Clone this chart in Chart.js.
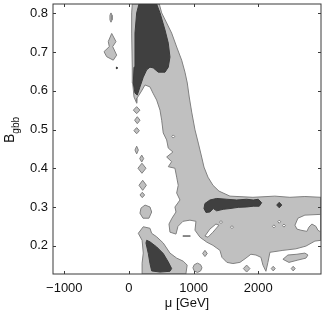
<!DOCTYPE html>
<html><head><meta charset="utf-8">
<script src="https://cdn.jsdelivr.net/npm/chart.js@4.4.0/dist/chart.umd.min.js"></script>
<style>html,body{margin:0;padding:0;background:#fff}#w{width:327px;height:313px;position:relative}</style>
</head><body><div id="w"><canvas id="c"></canvas></div>
<script>
// axis ticks and ranges
const xTicks = [-1000, 0, 1000, 2000];
const yTicks = [0.2, 0.3, 0.4, 0.5, 0.6, 0.7, 0.8];
const xRange = [-1175, 2970];
const yRange = [0.127, 0.824];

// light grey (outer contour) regions, [mu, B] pairs
const mainBand = [[51,0.824],[469,0.824],[506,0.801],[583,0.775],[660,0.749],[738,0.713],[815,0.679],[866,0.648],[902,0.620],[932,0.584],[970,0.545],[1021,0.499],[1072,0.465],[1124,0.429],[1160,0.403],[1222,0.377],[1299,0.356],[1392,0.341],[1562,0.328],[1917,0.325],[2257,0.328],[2489,0.325],[2721,0.327],[2970,0.325],[2970,0.281],[2970,0.214],[2876,0.212],[2737,0.199],[2582,0.192],[2381,0.188],[2180,0.183],[2149,0.157],[2118,0.134],[2072,0.150],[2041,0.170],[1964,0.176],[1886,0.178],[1809,0.168],[1716,0.157],[1608,0.154],[1515,0.157],[1438,0.170],[1407,0.188],[1299,0.201],[1206,0.209],[1098,0.222],[1021,0.240],[1036,0.263],[943,0.266],[835,0.263],[758,0.250],[727,0.230],[634,0.235],[619,0.256],[665,0.271],[727,0.287],[711,0.300],[789,0.318],[738,0.336],[762,0.356],[738,0.377],[711,0.400],[608,0.404],[660,0.417],[583,0.429],[680,0.442],[608,0.452],[583,0.473],[530,0.491],[506,0.524],[480,0.550],[428,0.576],[371,0.594],[325,0.610],[248,0.615],[186,0.597],[124,0.581],[119,0.568],[78,0.584],[57,0.620],[51,0.661],[42,0.749],[42,0.801]];
const lowerLeft = [[221,0.249],[325,0.245],[351,0.232],[428,0.223],[530,0.207],[634,0.181],[738,0.168],[840,0.160],[900,0.150],[880,0.127],[203,0.127],[203,0.155],[221,0.181],[203,0.214],[144,0.232]];
const islandsLight = [
  [[-278,0.801],[-262,0.795],[-262,0.783],[-278,0.777],[-294,0.783],[-294,0.795]],
  [[-267,0.748],[-201,0.727],[-252,0.714],[-190,0.692],[-243,0.679],[-345,0.688],[-386,0.701],[-304,0.714],[-320,0.727]],
  [[119,0.559],[170,0.550],[119,0.541],[68,0.550]],
  [[129,0.533],[171,0.524],[129,0.515],[87,0.524]],
  [[119,0.505],[161,0.497],[119,0.489],[77,0.497]],
  [[119,0.457],[145,0.447],[119,0.437],[93,0.447]],
  [[197,0.434],[228,0.425],[197,0.416],[166,0.425]],
  [[201,0.413],[263,0.400],[201,0.387],[139,0.400]],
  [[212,0.369],[269,0.356],[212,0.343],[155,0.356]],
  [[206,0.338],[242,0.331],[206,0.324],[170,0.331]],
  [[248,0.305],[325,0.300],[351,0.287],[309,0.271],[217,0.271],[170,0.284],[186,0.297]],
  [[1059,0.155],[1108,0.151],[1129,0.143],[1108,0.135],[1059,0.131],[1010,0.135],[989,0.143],[1010,0.151]],
  [[1175,0.188],[1211,0.180],[1175,0.172],[1139,0.180]],
  [[1820,0.150],[1871,0.141],[1820,0.132],[1769,0.141]],
  [[2381,0.165],[2458,0.176],[2598,0.178],[2721,0.181],[2768,0.176],[2737,0.168],[2613,0.163],[2474,0.157]],
  [[2231,0.147],[2262,0.141],[2231,0.135],[2200,0.141]],
  [[2540,0.147],[2571,0.141],[2540,0.135],[2509,0.141]],
  [[835,0.226],[943,0.226],[943,0.224],[835,0.224]]
];

// white holes inside the light region
const holes = [
  [[685,0.486],[708,0.482],[685,0.478],[662,0.482]],
  [[1175,0.225],[1252,0.243],[1345,0.256],[1392,0.253],[1299,0.235],[1222,0.222]],
  [[2567,0.253],[2613,0.271],[2721,0.279],[2970,0.281],[2970,0.235],[2922,0.240],[2891,0.250],[2829,0.256],[2783,0.248],[2752,0.237],[2659,0.240],[2598,0.243]],
  [[1423,0.265],[1446,0.261],[1423,0.257],[1400,0.261]],
  [[1593,0.252],[1616,0.248],[1593,0.244],[1570,0.248]],
  [[2242,0.254],[2265,0.250],[2242,0.246],[2219,0.250]],
  [[2324,0.266],[2347,0.262],[2324,0.258],[2301,0.262]],
  [[2397,0.256],[2420,0.252],[2397,0.248],[2374,0.252]]
];

// dark grey (inner contour) regions
const darkTop = [[155,0.824],[428,0.824],[480,0.801],[557,0.757],[608,0.723],[634,0.687],[608,0.661],[557,0.648],[453,0.648],[376,0.659],[325,0.661],[274,0.654],[221,0.635],[170,0.610],[129,0.589],[93,0.594],[67,0.620],[78,0.661],[93,0.749],[119,0.801]];
const darkBottom = [[274,0.214],[325,0.210],[428,0.197],[530,0.180],[608,0.158],[660,0.141],[634,0.134],[480,0.132],[351,0.135],[325,0.154],[299,0.180],[263,0.207]];
const darkBand = [[1175,0.309],[1252,0.318],[1356,0.322],[1511,0.320],[1665,0.318],[1820,0.320],[1922,0.318],[1999,0.320],[2052,0.311],[2015,0.302],[1922,0.302],[1820,0.300],[1690,0.299],[1562,0.296],[1458,0.294],[1356,0.290],[1304,0.296],[1252,0.287],[1191,0.286],[1160,0.296]];
const darkDot = [[2324,0.312],[2363,0.305],[2324,0.298],[2285,0.305]];
const darkSpeck = [[-195,0.661],[-185,0.661],[-185,0.657],[-195,0.657]];

const LIGHT = '#c0c0c0', LINE = '#808080', DARK = '#404040', WHITE = '#ffffff';
const FONT = '"Liberation Sans", Arial, Helvetica, sans-serif';

function poly(pts, fill, border, order) {
  const d = pts.map(p => ({x: p[0], y: p[1]}));
  d.push({x: pts[0][0], y: pts[0][1]});
  return {data: d, fill: 'shape', backgroundColor: fill, borderColor: border, borderWidth: 1,
          pointRadius: 0, pointHoverRadius: 0, tension: 0, order: order};
}

const datasets = [];
[mainBand, lowerLeft, ...islandsLight].forEach(p => datasets.push(poly(p, LIGHT, LINE, 3)));
holes.forEach(p => datasets.push(poly(p, WHITE, LINE, 2)));
[darkTop, darkBottom, darkBand, darkDot, darkSpeck].forEach(p => datasets.push(poly(p, DARK, '#3a3a3a', 1)));

const frame = {
  id: 'frame',
  afterDatasetsDraw(chart) {
    const {ctx, chartArea: a, scales: {x, y}} = chart;
    ctx.save();
    ctx.strokeStyle = '#3a3a3a'; ctx.lineWidth = 1;
    ctx.beginPath();
    for (const v of xTicks) {
      const p = Math.round(x.getPixelForValue(v)) + 0.5;
      ctx.moveTo(p, a.bottom); ctx.lineTo(p, a.bottom - 3);
      ctx.moveTo(p, a.top); ctx.lineTo(p, a.top + 3);
    }
    for (const v of yTicks) {
      const p = Math.round(y.getPixelForValue(v)) + 0.5;
      ctx.moveTo(a.left, p); ctx.lineTo(a.left + 3, p);
      ctx.moveTo(a.right, p); ctx.lineTo(a.right - 3, p);
    }
    ctx.stroke();
    ctx.strokeRect(a.left, a.top, a.right - a.left, a.bottom - a.top);
    ctx.fillStyle = '#111';
    ctx.translate(14, 143); ctx.rotate(-Math.PI / 2);
    ctx.textAlign = 'left'; ctx.textBaseline = 'alphabetic';
    ctx.font = '14px ' + FONT;
    ctx.fillText('B', 0, 0);
    const w = ctx.measureText('B').width;
    ctx.font = '10px ' + FONT;
    ctx.fillText('gbb', w, 5);
    ctx.restore();
  }
};

new Chart(document.getElementById('c'), {
  type: 'line',
  data: {datasets},
  plugins: [frame],
  options: {
    responsive: true, maintainAspectRatio: false, animation: false,
    layout: {padding: {left: 0, right: 6, top: 4, bottom: 0}},
    plugins: {legend: {display: false}, tooltip: {enabled: false}},
    events: [],
    scales: {
      x: {
        type: 'linear', min: xRange[0], max: xRange[1],
        grid: {display: false, drawTicks: false}, border: {display: false},
        afterBuildTicks: s => { s.ticks = xTicks.map(v => ({value: v})); },
        afterFit: s => { s.height = 39; s.paddingLeft = s.paddingRight = s.paddingTop = s.paddingBottom = 0; },
        ticks: {padding: 7, color: '#111', font: {size: 13, family: FONT}, maxRotation: 0,
                callback: v => v < 0 ? '\u2212' + Math.abs(v) : String(v)},
        title: {display: true, text: 'μ [GeV]', color: '#111', font: {size: 13, family: FONT}, padding: {top: 0, bottom: 2}}
      },
      y: {
        type: 'linear', min: yRange[0], max: yRange[1],
        grid: {display: false, drawTicks: false}, border: {display: false},
        afterBuildTicks: s => { s.ticks = yTicks.map(v => ({value: v})); },
        afterFit: s => { s.width = 53; s.paddingLeft = s.paddingRight = s.paddingTop = s.paddingBottom = 0; },
        ticks: {padding: 5, color: '#111', font: {size: 13, family: FONT}, callback: v => v.toFixed(1)}
      }
    }
  }
});
</script>
</body></html>
